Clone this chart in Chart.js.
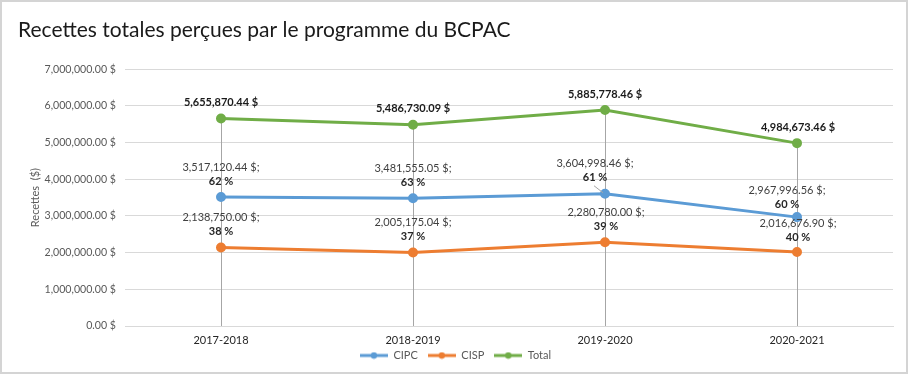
<!DOCTYPE html>
<html>
<head>
<meta charset="utf-8">
<script src="https://cdn.jsdelivr.net/npm/chart.js@4"></script>
<style>
  html,body{margin:0;padding:0;background:#fff;}
  #wrap{width:908px;height:374px;position:relative;}
</style>
</head>
<body>
<div id="wrap"><canvas id="recettesChart" width="908" height="374"></canvas></div>
<script>
// données du graphique
const annees = ['2017-2018','2018-2019','2019-2020','2020-2021'];
const cipc = [3517120.44, 3481555.05, 3604998.46, 2967996.56];
const cisp = [2138750.00, 2005175.04, 2280780.00, 2016676.90];
const total = [5655870.44, 5486730.09, 5885778.46, 4984673.46];
const pctCipc = [62, 63, 61, 60];
const pctCisp = [38, 37, 39, 40];
const yTicks = [0,1000000,2000000,3000000,4000000,5000000,6000000,7000000];

const FONT = 'Lato, "Noto Sans", sans-serif';
const fmt = v => v.toLocaleString('en-US',{minimumFractionDigits:2,maximumFractionDigits:2})+' $';

// petits decalages des etiquettes (dx, dy) par point
const labelNudge = {
  0: [[0,0],[0,0],[-10,0],[-10,3]],
  1: [[0,0],[0,0],[1,0],[1,1]],
  2: [[0,0],[0,0],[0,0],[1,0]]
};

function legendIcon(color){
  const c=document.createElement('canvas'); c.width=28; c.height=8;
  const x=c.getContext('2d');
  x.strokeStyle=color; x.lineWidth=3; x.beginPath(); x.moveTo(0,4); x.lineTo(28,4); x.stroke();
  x.fillStyle=color; x.beginPath(); x.arc(14,4,3.2,0,Math.PI*2); x.fill();
  return c;
}

const dropLines = {
  id:'dropLines',
  beforeDatasetsDraw(chart){
    const {ctx, chartArea, scales:{x,y}} = chart;
    ctx.save(); ctx.strokeStyle='#a6a6a6'; ctx.lineWidth=1;
    annees.forEach((a,i)=>{
      const px=Math.round(x.getPixelForValue(i))+0.5;
      const top=y.getPixelForValue(Math.max(cipc[i],cisp[i],total[i]));
      ctx.beginPath(); ctx.moveTo(px,top); ctx.lineTo(px,chartArea.bottom); ctx.stroke();
    });
    ctx.restore();
  }
};

// etiquettes de l'axe x (dessinees hors de la zone de l'axe, qui est reduite)
const xLabels = {
  id:'xLabels',
  afterDraw(chart){
    const {ctx, chartArea, scales:{x}} = chart;
    ctx.save(); ctx.font='11px '+FONT; ctx.fillStyle='#262626';
    ctx.textAlign='center'; ctx.textBaseline='middle';
    annees.forEach((a,i)=> ctx.fillText(a, x.getPixelForValue(i), chartArea.bottom+14));
    ctx.restore();
  }
};

const dataLabels = {
  id:'dataLabels',
  afterDatasetsDraw(chart){
    const ctx=chart.ctx;
    ctx.save(); ctx.textAlign='center'; ctx.textBaseline='middle';
    chart.data.datasets.forEach((ds,di)=>{
      const meta=chart.getDatasetMeta(di);
      meta.data.forEach((pt,i)=>{
        const [dx,dy]=labelNudge[di][i];
        const cx=pt.x+dx, cy=pt.y+dy;
        if(di===2){
          ctx.font='bold 11px '+FONT; ctx.fillStyle='#1a1a1a';
          ctx.fillText(fmt(ds.data[i]),cx,cy-16);
        } else {
          const pct = di===0 ? pctCipc[i] : pctCisp[i];
          ctx.font='11px '+FONT; ctx.fillStyle='#404040';
          ctx.fillText(fmt(ds.data[i])+';',cx,cy-30);
          ctx.font='bold 11px '+FONT; ctx.fillStyle='#262626';
          ctx.fillText(pct+' %',cx,cy-16);
        }
      });
    });
    // ligne de rappel 2019-2020 CIPC
    const p=chart.getDatasetMeta(0).data[2];
    ctx.strokeStyle='#a6a6a6'; ctx.lineWidth=1;
    ctx.beginPath(); ctx.moveTo(p.x-11,p.y-8); ctx.lineTo(p.x-2,p.y-1); ctx.stroke();
    ctx.restore();
  }
};

const frame = {
  id:'frame',
  afterDraw(chart){
    const ctx=chart.ctx; ctx.save();
    ctx.strokeStyle='#d4d4d4'; ctx.lineWidth=2;
    ctx.strokeRect(1,1,chart.width-2,chart.height-2);
    ctx.restore();
  }
};

function ligne(label,data,color){
  return {label,data,borderColor:color,backgroundColor:color,borderWidth:3,
    pointRadius:3.5,pointHoverRadius:3.5,pointBackgroundColor:color,pointBorderColor:color,
    tension:0,fill:false};
}

new Chart(document.getElementById('recettesChart').getContext('2d'),{
  type:'line',
  data:{labels:annees,datasets:[
    ligne('CIPC',cipc,'#5b9bd5'),
    ligne('CISP',cisp,'#ed7d31'),
    ligne('Total',total,'#70ad47')
  ]},
  options:{
    responsive:false, animation:false,
    layout:{padding:{left:18,right:15,top:0,bottom:3}},
    scales:{
      x:{offset:true,
        grid:{display:false,drawTicks:false},
        border:{display:true,color:'#d9d9d9'},
        ticks:{display:false},
        afterFit(s){ s.height=14; }
      },
      y:{min:0,max:7000000,
        afterBuildTicks(s){ s.ticks=yTicks.map(v=>({value:v})); },
        grid:{color:'#d9d9d9',drawTicks:false},
        border:{display:false},
        ticks:{font:{family:FONT,size:10.6},color:'#595959',padding:9,callback:v=>fmt(v)},
        title:{display:true,text:'Recettes  ($)',font:{family:FONT,size:11},color:'#595959',padding:{top:11,bottom:0}},
        afterFit(s){ s.width=107; }
      }
    },
    plugins:{
      title:{display:true,text:'Recettes totales perçues par le programme du BCPAC',align:'start',
        font:{family:FONT,size:21,weight:'normal'},color:'#1a1a1a',padding:{top:18,bottom:26}},
      legend:{position:'bottom',
        labels:{font:{family:FONT,size:11},color:'#595959',usePointStyle:true,pointStyleWidth:28,boxHeight:8,padding:10,
          generateLabels(chart){
            return chart.data.datasets.map((ds,i)=>({text:ds.label,pointStyle:legendIcon(ds.borderColor),
              fillStyle:ds.borderColor,strokeStyle:ds.borderColor,lineWidth:0,datasetIndex:i,fontColor:'#595959'}));
          }}},
      tooltip:{enabled:false}
    }
  },
  plugins:[dropLines,dataLabels,xLabels,frame]
});
</script>
</body>
</html>
